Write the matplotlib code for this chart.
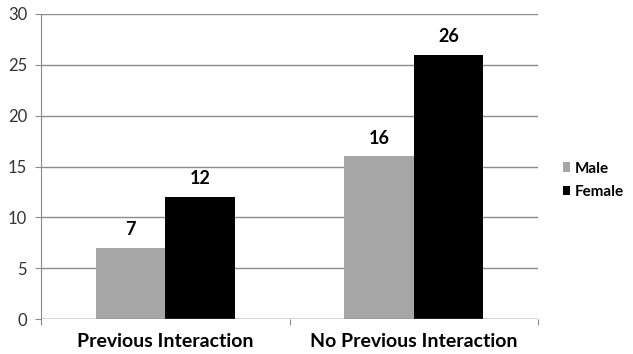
import matplotlib
matplotlib.use("Agg")
import matplotlib.pyplot as plt
import numpy as np

categories = ["Previous Interaction", "No Previous Interaction"]
male = [7, 16]
female = [12, 26]
series_names = ["Male", "Female"]
colors = ["#a6a6a6", "#000000"]

plt.rcParams['font.family'] = ['Lato', 'DejaVu Sans']

fig = plt.figure(figsize=(6.33, 3.54), dpi=100)
ax = fig.add_axes([41 / 633, 1 - 319 / 354, (538 - 41) / 633, (319 - 14) / 354])

x = np.arange(len(categories))
w = 0.28
b1 = ax.bar(x - w / 2, male, w, color=colors[0], label=series_names[0], zorder=3)
b2 = ax.bar(x + w / 2, female, w, color=colors[1], label=series_names[1], zorder=3)

for bars in (b1, b2):
    for rect in bars:
        h = rect.get_height()
        ax.annotate(f"{h:g}", (rect.get_x() + rect.get_width() / 2, h),
                    xytext=(0, 7), textcoords="offset points",
                    ha="center", va="bottom", fontsize=13, fontweight="bold")

ax.set_xlim(-0.5, 1.5)
ax.set_ylim(0, 30)
ax.set_yticks(range(0, 31, 5))
ax.yaxis.grid(True, color="#8c8c8c", linewidth=1, zorder=0)
ax.set_axisbelow(True)

for side in ("top", "right", "bottom"):
    ax.spines[side].set_visible(False)
ax.spines["left"].set_color("#8c8c8c")
ax.axhline(0, color="#8c8c8c", linewidth=1, zorder=4)

ax.set_xticks([-0.5, 0.5, 1.5])
ax.set_xticklabels([])
ax.set_xticks(x, minor=True)
ax.set_xticklabels(categories, minor=True, fontsize=14, fontweight="bold")
ax.tick_params(axis="x", which="major", length=4, color="#8c8c8c", direction="out")
ax.tick_params(axis="x", which="minor", length=0, pad=10)
ax.tick_params(axis="y", length=4, color="#8c8c8c", labelsize=12, pad=6,
               labelcolor="#333333")

ax.legend(loc="center left", bbox_to_anchor=(1.022, 0.455), frameon=False,
          prop={"weight": "bold", "size": 11}, handlelength=0.5, handleheight=0.6,
          handletextpad=0.3, labelspacing=0.6)

fig.savefig("out.png", dpi=100, facecolor="white")
